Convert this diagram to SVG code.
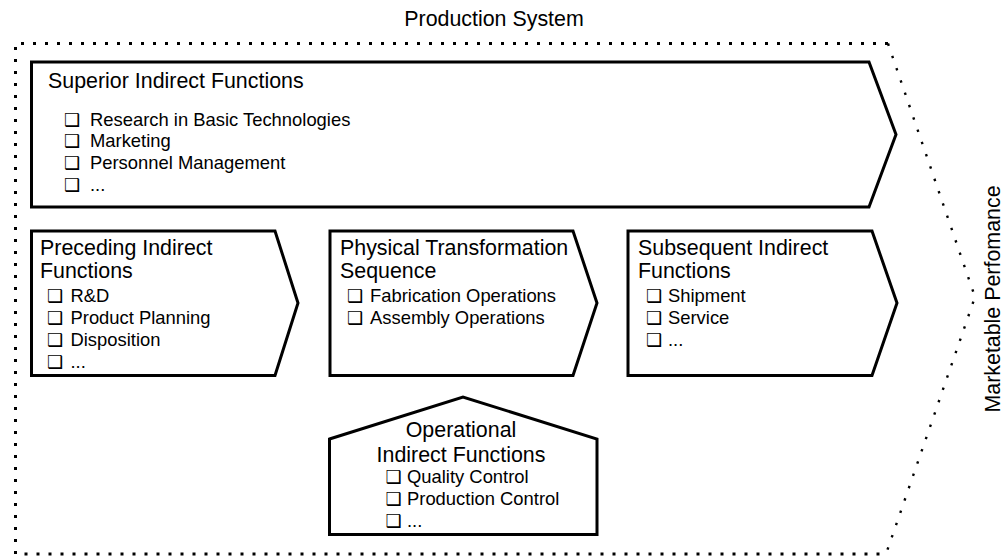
<svg xmlns="http://www.w3.org/2000/svg" width="1005" height="557" viewBox="0 0 1005 557">
<style>
.box{fill:#fff;stroke:#000;stroke-width:3;stroke-linejoin:miter}
.frame{fill:none;stroke:#000;stroke-width:3;stroke-dasharray:3 9}
.frameD{fill:none;stroke:#000;stroke-width:2.4;stroke-dasharray:2.4 10.6}
text{font-family:"Liberation Sans",Arial,sans-serif;fill:#000}
.t{font-size:21.4px}
.i{font-size:18.4px}
.cb{font-family:"DejaVu Sans",sans-serif;font-size:18px;font-weight:bold}
</style>
<rect width="1005" height="557" fill="#fff"/>
<g id="frame">
<path class="frame" d="M888,43.5 H15.5 V554 H886"/>
<path class="frameD" d="M888,43.5 L975,297 L886,554"/>
<text class="t" x="494" y="26" text-anchor="middle">Production System</text>
<text class="t" transform="translate(1000,299) rotate(-90)" text-anchor="middle">Marketable Perfomance</text>
</g>
<g id="connectors"/>
<g id="superior">
<polygon class="box" points="31.5,62 869,62 896,134.5 869,207 31.5,207"/>
<text class="t" x="48" y="88">Superior Indirect Functions</text>
<text class="i" y="125.5"><tspan class="cb" x="64">❑</tspan><tspan x="90">Research in Basic Technologies</tspan></text>
<text class="i" y="147.2"><tspan class="cb" x="64">❑</tspan><tspan x="90">Marketing</tspan></text>
<text class="i" y="168.9"><tspan class="cb" x="64">❑</tspan><tspan x="90">Personnel Management</tspan></text>
<text class="i" y="190.6"><tspan class="cb" x="64">❑</tspan><tspan x="90">...</tspan></text>
</g>
<g id="preceding">
<polygon class="box" points="31.5,231 275,231 298,303 275,375.5 31.5,375.5"/>
<text class="t" x="40" y="255">Preceding Indirect</text>
<text class="t" x="40" y="277.5">Functions</text>
<text class="i" y="302"><tspan class="cb" x="47">❑</tspan><tspan x="70.5">R&amp;D</tspan></text>
<text class="i" y="324"><tspan class="cb" x="47">❑</tspan><tspan x="70.5">Product Planning</tspan></text>
<text class="i" y="346"><tspan class="cb" x="47">❑</tspan><tspan x="70.5">Disposition</tspan></text>
<text class="i" y="368"><tspan class="cb" x="47">❑</tspan><tspan x="70.5">...</tspan></text>
</g>
<g id="physical">
<polygon class="box" points="330,231 573,231 597,303 573,375.5 330,375.5"/>
<text class="t" x="340" y="255">Physical Transformation</text>
<text class="t" x="340" y="277.5">Sequence</text>
<text class="i" y="302"><tspan class="cb" x="347">❑</tspan><tspan x="370">Fabrication Operations</tspan></text>
<text class="i" y="324"><tspan class="cb" x="347">❑</tspan><tspan x="370">Assembly Operations</tspan></text>
</g>
<g id="subsequent">
<polygon class="box" points="628,231 872,231 897,303 872,375.5 628,375.5"/>
<text class="t" x="638" y="255">Subsequent Indirect</text>
<text class="t" x="638" y="277.5">Functions</text>
<text class="i" y="302"><tspan class="cb" x="646">❑</tspan><tspan x="668">Shipment</tspan></text>
<text class="i" y="324"><tspan class="cb" x="646">❑</tspan><tspan x="668">Service</tspan></text>
<text class="i" y="346"><tspan class="cb" x="646">❑</tspan><tspan x="668">...</tspan></text>
</g>
<g id="operational">
<polygon class="box" points="329.5,439 463,397 597,439 597,534.5 329.5,534.5"/>
<text class="t" x="461" y="437" text-anchor="middle">Operational</text>
<text class="t" x="461" y="461.5" text-anchor="middle">Indirect Functions</text>
<text class="i" y="483"><tspan class="cb" x="385.5">❑</tspan><tspan x="407">Quality Control</tspan></text>
<text class="i" y="505"><tspan class="cb" x="385.5">❑</tspan><tspan x="407">Production Control</tspan></text>
<text class="i" y="527"><tspan class="cb" x="385.5">❑</tspan><tspan x="407">...</tspan></text>
</g>
</svg>
